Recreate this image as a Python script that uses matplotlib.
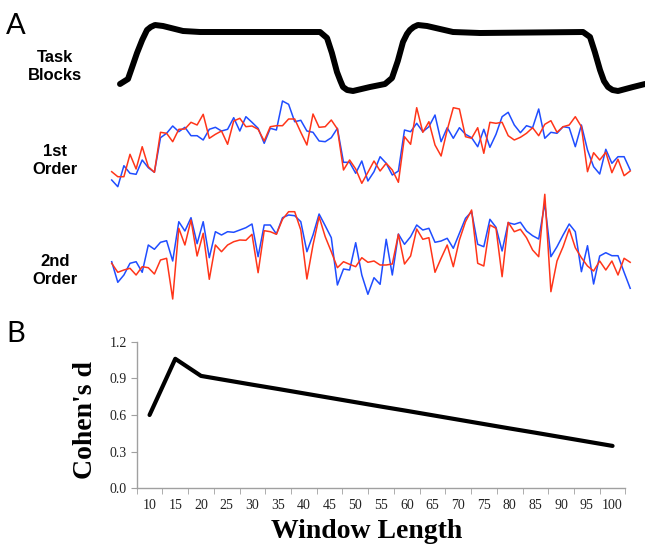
import matplotlib
matplotlib.use('Agg')
import matplotlib.pyplot as plt
import numpy as np

# Panel A: task block regressor (time index, arbitrary units)
task_t = [1.36, 2.67, 3.30, 4.15, 5.00, 5.79, 6.40, 7.10, 8.41, 11.69, 14.48, 34.15, 35.30,
          36.10, 36.93, 37.50, 37.92, 38.60, 39.56, 42.34, 44.80, 45.95, 46.90, 47.75, 48.40,
          48.89, 49.50, 50.20, 51.69, 55.95, 60.38, 77.26, 78.41, 79.20, 80.05, 80.70, 81.36,
          82.10, 83.00, 85.46, 87.43]
task_v = [11, 16, 27, 42, 55, 65, 68, 70, 69, 64, 63, 63, 57,
          42, 23, 14, 8, 5, 4, 8, 11, 17, 34, 53, 61,
          65, 68, 70, 69, 63, 62, 63, 58, 43, 25, 14, 8,
          5, 4, 8, 11]

# 1st order series (blue / red)
first_blue = [10, 3.3, 24.3, 16.7, 15.7, 30, 22.3, 17.7, 52.3, 56.7,
              64, 58.3, 62.7, 54.3, 54.3, 50, 60.7, 62.7, 59, 60.7,
              72.3, 59, 73.3, 67.7, 61.7, 46.7, 61.7, 60, 89, 85.7,
              68.3, 69.7, 59, 57.7, 49, 48.3, 52.3, 61.7, 27.7, 27.7,
              16.7, 29, 9, 18.3, 33.3, 26.7, 15, 19, 60, 58.3,
              66.7, 58.3, 63.3, 75, 48.3, 62.3, 51.7, 62.3, 55.7, 52.3,
              43.3, 60.7, 42.7, 55.7, 73.3, 77.7, 65, 57.3, 64.3, 62.3,
              81, 51.7, 57.7, 56.7, 63.3, 62.3, 43.3, 65, 40, 23.3,
              16, 40.7, 26.7, 33.3, 33.3, 20]
first_red = [18.3, 13.3, 13.3, 35.7, 21, 43.3, 23.3, 17.7, 57.7, 56.7,
             48.3, 60.7, 61, 67.7, 65, 75.7, 51.7, 55.7, 59, 45.7,
             69, 71.7, 63.3, 64, 60.7, 49, 63.3, 64.3, 64.3, 71,
             71, 57.7, 45, 76, 62.7, 63.3, 70, 61, 20, 30,
             21, 6.7, 17.7, 29, 19, 26.7, 20, 7.7, 53.3, 45.7,
             82.3, 57.7, 68.3, 45, 34, 60, 82.3, 81, 53.3, 51.7,
             62.3, 36.7, 67.7, 66.7, 67.7, 54.3, 50, 52.7, 56.7, 62.3,
             54.3, 65.7, 69.3, 57.7, 63.3, 65, 73.3, 63.3, 18.3, 37.3,
             30, 37.7, 17.3, 30.7, 14.3, 19]

# 2nd order series (blue / red)
second_blue = [38.3, 17.7, 25, 36.7, 38.3, 27.7, 55, 50.7, 57.7, 59.3,
               39, 78.3, 69, 82.3, 56.3, 78.3, 42.3, 68.3, 65, 68.3,
               67.7, 70, 72.3, 76, 43.3, 75, 75, 66, 82.3, 85,
               84.3, 78.3, 48.3, 65, 86, 74.3, 62.3, 15, 31, 30,
               57.3, 25, 5.7, 22.3, 15.7, 60.7, 25, 66, 55.7, 63.3,
               75, 70, 71.7, 57.7, 59, 61.7, 51.7, 66.7, 81.7, 88.3,
               55.7, 53.3, 80.7, 72.7, 49, 77.3, 75.7, 77.7, 69, 64.3,
               61, 96.7, 43.3, 53.3, 65, 76, 68.3, 28.3, 54.3, 16,
               44, 47.3, 44.3, 44.3, 27.7, 11.7]
second_red = [36.7, 27.7, 30, 31.7, 25, 33.3, 32.3, 26, 40, 41.7,
              1, 71.7, 55, 80, 44, 66.7, 20.7, 55, 48.3, 55,
              58.3, 60, 59.7, 65.7, 27.3, 69.3, 68.3, 65.7, 80.7, 88.3,
              88.3, 70, 21, 55, 83.3, 63.3, 48.3, 32.3, 38.3, 35.7,
              33.3, 42.3, 37.7, 39, 35, 35, 36, 65.7, 36, 44,
              71, 60.7, 62.3, 27.7, 41.7, 55, 33.3, 60, 78.3, 90,
              36.7, 34, 75, 71.7, 23.3, 77.7, 68.3, 70.7, 62.3, 50,
              43.3, 105.7, 8.3, 39, 53.3, 71, 52.3, 42.3, 34, 29,
              39, 30, 39, 25, 41.7, 37.7]

# Panel B: Cohen's d vs window length
window_len = ['10', '15', '20', '25', '30', '35', '40', '45', '50', '55',
              '60', '65', '70', '75', '80', '85', '90', '95', '100']
cohens_d = [0.600, 1.060, 0.920, 0.884, 0.848, 0.813, 0.777, 0.741, 0.705, 0.669,
            0.634, 0.598, 0.562, 0.526, 0.490, 0.455, 0.419, 0.383, 0.347]

W, H = 645, 545
fig = plt.figure(figsize=(W / 100, H / 100), dpi=100)


def fx(x):
    return x / W


def fy(y):
    return 1 - y / H


x0 = -111.7 / 6.1
x1 = (W - 111.7) / 6.1
blue = '#1f4dff'
red = '#ff3519'

ax_task = fig.add_axes([0, fy(95), 1, 95 / H])
ax_task.plot(task_t, task_v, color='black', lw=4.3, solid_joinstyle='round',
             solid_capstyle='round', clip_on=False)
ax_task.set_ylim(0, 95)

idx = np.arange(len(first_blue))
ax_1 = fig.add_axes([0, fy(190), 1, 95 / H])
ax_1.plot(idx, first_blue, color=blue, lw=1.1)
ax_1.plot(idx, first_red, color=red, lw=1.1)
ax_1.set_ylim(0, 95)

ax_2 = fig.add_axes([0, fy(302), 1, 114 / H])
ax_2.plot(idx, second_blue, color=blue, lw=1.1, clip_on=False)
ax_2.plot(idx, second_red, color=red, lw=1.1, clip_on=False)
ax_2.set_ylim(-2, 112)

for a in (ax_task, ax_1, ax_2):
    a.set_xlim(x0, x1)
    a.axis('off')

lab = dict(fontsize=12, fontweight='bold', ha='center', va='center',
           family=['Liberation Sans', 'DejaVu Sans'], linespacing=1.25)
fig.text(fx(55), fy(66), 'Task\nBlocks', **lab)
fig.text(fx(55), fy(160), '1st\nOrder', **lab)
fig.text(fx(55), fy(270), '2nd\nOrder', **lab)

panel = dict(fontsize=21, fontweight='normal', family=['Lato', 'DejaVu Sans'],
             ha='left', va='baseline', color='black')
fig.text(fx(6), fy(34), 'A', **panel)
fig.text(fx(6), fy(342), 'B', **panel)

# Panel B
serif = ['Liberation Serif', 'DejaVu Serif']
axb = fig.add_axes([fx(136.7), fy(488.3), 488.7 / W, 146.6 / H])
xb = np.arange(len(window_len))
axb.plot(xb, cohens_d, color='black', lw=3, solid_joinstyle='round',
         solid_capstyle='round')
axb.set_xlim(-0.5, len(window_len) - 0.5)
axb.set_ylim(0, 1.2)
axb.set_yticks([0, 0.3, 0.6, 0.9, 1.2])
axb.set_yticklabels(['0.0', '0.3', '0.6', '0.9', '1.2'])
axb.set_xticks(xb)
axb.set_xticklabels(window_len)
axb.set_xticks(np.arange(-0.5, len(window_len), 1), minor=True)
axb.tick_params(axis='x', which='major', length=0, pad=8)
axb.tick_params(axis='x', which='minor', length=4, color='#a0a0a0', direction='out')
axb.tick_params(axis='y', length=4, color='#a0a0a0', pad=3)
for t in axb.get_xticklabels() + axb.get_yticklabels():
    t.set_family(serif)
    t.set_fontsize(10)
    t.set_color('#222222')
for s in ('top', 'right'):
    axb.spines[s].set_visible(False)
for s in ('left', 'bottom'):
    axb.spines[s].set_color('#a0a0a0')
    axb.spines[s].set_linewidth(1)

fig.text(fx(85), fy(420), "Cohen's d", rotation=90, fontsize=20, fontweight='bold',
         family=serif, ha='center', va='center')
fig.text(fx(367), fy(538), 'Window Length', fontsize=20, fontweight='bold',
         family=serif, ha='center', va='baseline')

fig.savefig('out.png', dpi=100)
